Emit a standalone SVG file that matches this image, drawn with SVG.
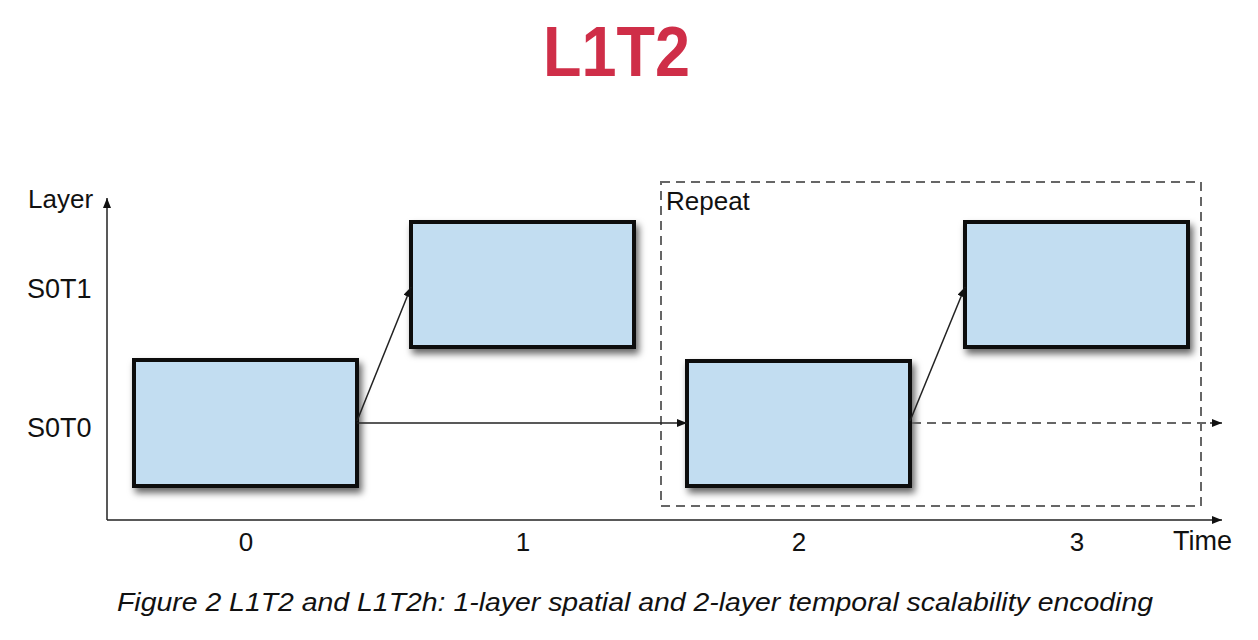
<svg xmlns="http://www.w3.org/2000/svg" width="1258" height="640" viewBox="0 0 1258 640">
<style>
  .lbl { font-family: "Liberation Sans", Arial, sans-serif; font-size: 26px; fill: #111; }
  .box { fill: #c2ddf1; stroke: #111; stroke-width: 4; }
  .ln { stroke: #222; stroke-width: 1.5; fill: none; }
  .dash { stroke: #666; stroke-width: 2; stroke-dasharray: 9 6; fill: none; }
</style>
<defs>
  <marker id="ah" viewBox="0 0 10 8" refX="10" refY="4" markerWidth="10" markerHeight="8" markerUnits="userSpaceOnUse" orient="auto">
    <path d="M0,0 L10,4 L0,8 z" fill="#111"/>
  </marker>
  <filter id="sh" x="-10%" y="-10%" width="130%" height="140%">
    <feDropShadow dx="3" dy="5" stdDeviation="3.5" flood-color="#000" flood-opacity="0.6"/>
  </filter>
</defs>
<rect width="1258" height="640" fill="#fff"/>
<text x="543" y="76" textLength="147" lengthAdjust="spacingAndGlyphs" style="font-family:'Liberation Sans',Arial,sans-serif;font-weight:bold;font-size:71px;fill:#cf2e48">L1T2</text>

<g id="axes">
  <line class="ln" x1="107" y1="520" x2="107" y2="198" marker-end="url(#ah)"/>
  <line class="ln" x1="107" y1="520" x2="1222" y2="520" marker-end="url(#ah)"/>
  <text class="lbl" x="28" y="208">Layer</text>
  <text class="lbl" x="27" y="298" style="font-size:27px">S0T1</text>
  <text class="lbl" x="27" y="437" style="font-size:27px">S0T0</text>
  <text class="lbl" x="246" y="551" text-anchor="middle">0</text>
  <text class="lbl" x="523" y="551" text-anchor="middle">1</text>
  <text class="lbl" x="799" y="551" text-anchor="middle">2</text>
  <text class="lbl" x="1077" y="551" text-anchor="middle">3</text>
  <text class="lbl" x="1173" y="550" style="font-size:27px">Time</text>
</g>

<g id="repeat">
  <rect class="dash" x="661" y="182" width="540" height="324"/>
  <text class="lbl" x="666" y="210">Repeat</text>
</g>

<g id="frame0"><rect class="box" filter="url(#sh)" x="134" y="360" width="223" height="126"/></g>
<g id="frame1"><rect class="box" filter="url(#sh)" x="411" y="222" width="223" height="125"/></g>
<g id="frame2"><rect class="box" filter="url(#sh)" x="687" y="361" width="223" height="125"/></g>
<g id="frame3"><rect class="box" filter="url(#sh)" x="965" y="222" width="223" height="125"/></g>

<g id="connectors">
  <line class="ln" x1="357" y1="421" x2="411" y2="287" marker-end="url(#ah)"/>
  <line class="ln" x1="357" y1="423" x2="687" y2="423" marker-end="url(#ah)"/>
  <line class="ln" x1="910" y1="421" x2="965" y2="287" marker-end="url(#ah)"/>
  <line class="dash" x1="912" y1="423" x2="1210" y2="423"/>
  <line class="ln" x1="1210" y1="423" x2="1222" y2="423" marker-end="url(#ah)"/>
</g>

<text x="117" y="611" textLength="1036" lengthAdjust="spacingAndGlyphs" style="font-family:'Liberation Sans',Arial,sans-serif;font-style:italic;font-size:25px;fill:#111">Figure 2 L1T2 and L1T2h: 1-layer spatial and 2-layer temporal scalability encoding</text>
</svg>
